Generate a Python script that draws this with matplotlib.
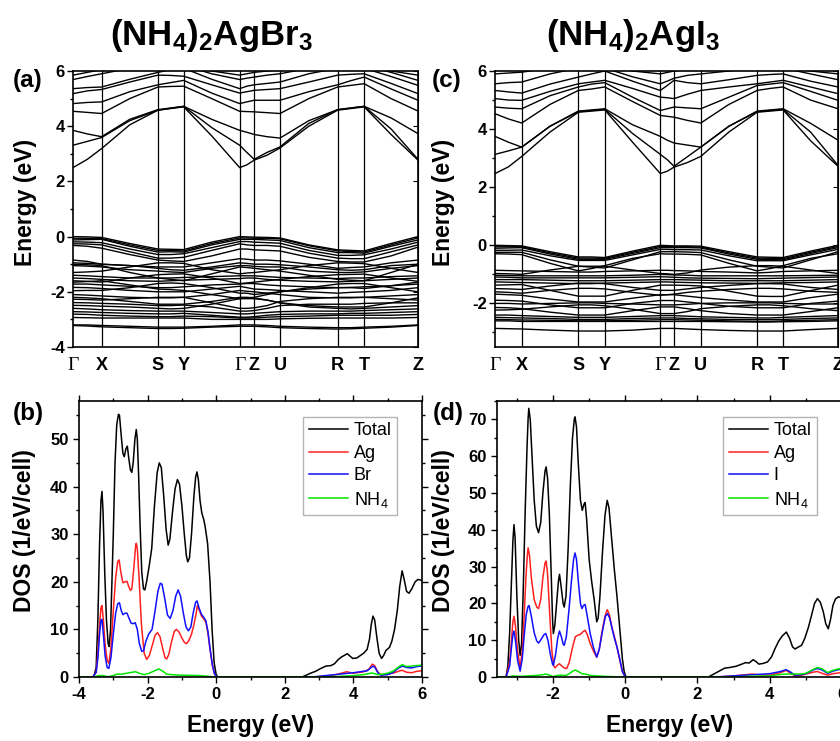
import numpy as np
import matplotlib
matplotlib.use('Agg')
import matplotlib.pyplot as plt
from matplotlib.ticker import MultipleLocator

plt.rcParams['font.family'] = ['Liberation Sans', 'DejaVu Sans']
plt.rcParams['font.weight'] = 'bold'
plt.rcParams['axes.labelweight'] = 'bold'
plt.rcParams['axes.unicode_minus'] = False
plt.rcParams['mathtext.fontset'] = 'custom'
plt.rcParams['mathtext.rm'] = 'Liberation Sans'
plt.rcParams['mathtext.bf'] = 'Liberation Sans:bold'
plt.rcParams['mathtext.default'] = 'regular'

# ---------------- band structures ----------------
# k path (relative distances), values read at the high-symmetry points and segment midpoints
kpath_labels = ['Γ', 'X', 'S', 'Y', 'Γ', 'Z', 'U', 'R', 'T', 'Z']
hs_a = [0, 0.083, 0.246, 0.321, 0.483, 0.525, 0.600, 0.767, 0.844, 1.0]
hs_c = [0, 0.078, 0.243, 0.320, 0.482, 0.522, 0.600, 0.764, 0.840, 1.0]

# (NH4)2AgBr3 bands: Γ m X m S m Y m Γ m Z m U m R m T m Z
bands_a = [
    [2.50, 2.80, 3.19, 4.05, 4.58, 4.64, 4.70, 3.65, 2.50, 2.60, 2.77, 2.95, 3.21, 4.00, 4.58, 4.64, 4.70, 3.70, 2.77],
    [3.31, 3.45, 3.59, 4.20, 4.58, 4.65, 4.72, 3.95, 3.31, 3.05, 2.80, 3.05, 3.25, 4.10, 4.60, 4.66, 4.72, 3.90, 2.80],
    [3.85, 3.72, 3.62, 4.25, 4.60, 4.66, 4.72, 4.25, 3.85, 3.78, 3.70, 3.62, 3.57, 4.20, 4.60, 4.66, 4.72, 4.30, 3.73],
    [4.54, 4.50, 4.46, 5.00, 5.42, 5.44, 5.45, 5.00, 4.54, 4.53, 4.52, 4.49, 4.46, 5.00, 5.42, 5.48, 5.54, 5.00, 4.55],
    [4.82, 4.86, 4.88, 5.25, 5.50, 5.58, 5.66, 5.20, 4.82, 4.88, 4.94, 4.94, 4.94, 5.25, 5.50, 5.65, 5.78, 5.35, 4.94],
    [5.18, 5.28, 5.33, 5.60, 5.85, 5.84, 5.81, 5.50, 5.20, 5.25, 5.30, 5.33, 5.36, 5.60, 5.85, 5.88, 5.90, 5.55, 5.18],
    [5.36, 5.40, 5.42, 5.70, 5.95, 6.05, 6.10, 5.70, 5.36, 5.45, 5.50, 5.55, 5.60, 5.90, 6.10, 6.10, 6.10, 5.80, 5.48],
    [5.69, 5.80, 5.90, 6.10, 6.20, 6.20, 6.20, 5.90, 5.69, 5.74, 5.78, 5.85, 5.90, 6.10, 6.20, 6.20, 6.20, 5.95, 5.66],
    [5.85, 5.95, 6.05, 6.20, 6.30, 6.30, 6.30, 6.00, 5.85, 5.90, 5.95, 6.00, 6.05, 6.20, 6.30, 6.30, 6.30, 6.00, 5.85],
    [0.00, -0.01, -0.03, -0.25, -0.45, -0.46, -0.47, -0.20, 0.00, -0.01, -0.02, -0.03, -0.05, -0.30, -0.48, -0.50, -0.52, -0.25, 0.00],
    [-0.06, -0.06, -0.07, -0.30, -0.50, -0.50, -0.52, -0.25, -0.05, -0.05, -0.06, -0.06, -0.08, -0.33, -0.52, -0.54, -0.56, -0.30, -0.05],
    [-0.12, -0.11, -0.10, -0.35, -0.56, -0.55, -0.56, -0.30, -0.10, -0.10, -0.10, -0.12, -0.14, -0.40, -0.58, -0.58, -0.60, -0.35, -0.12],
    [-0.19, -0.20, -0.22, -0.45, -0.65, -0.65, -0.62, -0.40, -0.18, -0.18, -0.20, -0.22, -0.24, -0.50, -0.68, -0.68, -0.66, -0.45, -0.20],
    [-0.26, -0.27, -0.30, -0.55, -0.78, -0.78, -0.75, -0.50, -0.26, -0.30, -0.32, -0.32, -0.35, -0.60, -0.78, -0.80, -0.80, -0.55, -0.30],
    [-0.32, -0.35, -0.42, -0.65, -0.85, -0.88, -0.90, -0.70, -0.45, -0.45, -0.48, -0.50, -0.52, -0.75, -0.90, -0.92, -0.92, -0.70, -0.38],
    [-0.85, -0.90, -1.00, -1.05, -1.10, -1.10, -1.10, -0.95, -0.80, -0.82, -0.85, -0.85, -0.88, -1.00, -1.15, -1.12, -1.10, -0.95, -0.85],
    [-0.95, -0.97, -1.00, -1.05, -1.15, -1.20, -1.22, -1.10, -0.95, -0.97, -1.00, -1.00, -1.02, -1.10, -1.20, -1.22, -1.20, -1.05, -1.00],
    [-1.05, -1.07, -1.10, -1.20, -1.25, -1.28, -1.30, -1.15, -1.05, -1.05, -1.08, -1.10, -1.10, -1.25, -1.30, -1.30, -1.28, -1.15, -1.05],
    [-1.00, -1.02, -1.05, -1.30, -1.50, -1.55, -1.60, -1.35, -1.10, -1.12, -1.15, -1.20, -1.25, -1.40, -1.55, -1.58, -1.60, -1.30, -1.00],
    [-1.30, -1.28, -1.25, -1.10, -0.95, -0.95, -0.97, -1.20, -1.35, -1.32, -1.30, -1.25, -1.20, -1.05, -0.95, -0.96, -0.98, -1.15, -1.30],
    [-1.40, -1.42, -1.45, -1.50, -1.50, -1.50, -1.48, -1.45, -1.42, -1.42, -1.42, -1.45, -1.48, -1.50, -1.52, -1.50, -1.50, -1.45, -1.42],
    [-1.50, -1.52, -1.55, -1.60, -1.62, -1.60, -1.58, -1.55, -1.52, -1.50, -1.50, -1.55, -1.58, -1.62, -1.64, -1.62, -1.60, -1.55, -1.50],
    [-1.60, -1.62, -1.65, -1.50, -1.38, -1.36, -1.35, -1.50, -1.70, -1.68, -1.65, -1.60, -1.55, -1.45, -1.38, -1.37, -1.36, -1.50, -1.62],
    [-1.65, -1.63, -1.60, -1.75, -1.90, -1.92, -1.95, -2.10, -2.25, -2.22, -2.20, -2.10, -2.00, -1.90, -1.85, -1.85, -1.88, -1.78, -1.65],
    [-1.72, -1.72, -1.75, -1.80, -1.85, -1.85, -1.82, -1.75, -1.72, -1.70, -1.70, -1.75, -1.78, -1.82, -1.85, -1.84, -1.82, -1.78, -1.72],
    [-1.84, -1.85, -1.88, -1.95, -2.00, -2.00, -2.00, -1.90, -1.80, -1.85, -1.90, -1.92, -1.95, -2.00, -2.05, -2.02, -2.00, -1.95, -1.85],
    [-1.96, -1.95, -1.95, -1.85, -1.70, -1.68, -1.70, -1.85, -2.05, -2.05, -2.10, -2.05, -2.00, -1.85, -1.72, -1.70, -1.70, -1.85, -2.00],
    [-2.10, -2.12, -2.15, -2.20, -2.22, -2.22, -2.20, -2.10, -1.95, -1.98, -2.00, -2.05, -2.10, -2.20, -2.22, -2.22, -2.20, -2.15, -2.10],
    [-2.20, -2.22, -2.25, -2.35, -2.45, -2.45, -2.45, -2.35, -2.20, -2.20, -2.22, -2.30, -2.40, -2.50, -2.55, -2.55, -2.55, -2.40, -2.22],
    [-2.27, -2.28, -2.30, -2.25, -2.20, -2.20, -2.20, -2.40, -2.60, -2.60, -2.58, -2.50, -2.35, -2.25, -2.20, -2.20, -2.20, -2.25, -2.30],
    [-2.39, -2.40, -2.42, -2.45, -2.50, -2.50, -2.48, -2.55, -2.70, -2.70, -2.68, -2.60, -2.50, -2.45, -2.45, -2.45, -2.42, -2.40, -2.40],
    [-2.49, -2.50, -2.52, -2.55, -2.60, -2.62, -2.60, -2.45, -2.25, -2.25, -2.25, -2.30, -2.40, -2.55, -2.60, -2.62, -2.60, -2.55, -2.50],
    [-2.60, -2.62, -2.65, -2.68, -2.70, -2.70, -2.70, -2.75, -2.80, -2.80, -2.78, -2.75, -2.72, -2.70, -2.70, -2.70, -2.68, -2.65, -2.62],
    [-2.72, -2.73, -2.75, -2.78, -2.80, -2.80, -2.78, -2.85, -2.92, -2.92, -2.90, -2.85, -2.82, -2.80, -2.80, -2.78, -2.78, -2.75, -2.72],
    [-2.81, -2.82, -2.85, -2.88, -2.90, -2.90, -2.88, -2.90, -2.95, -2.95, -2.95, -2.92, -2.90, -2.88, -2.85, -2.85, -2.85, -2.85, -2.82],
    [-2.93, -2.94, -2.95, -2.95, -2.95, -2.95, -2.95, -3.00, -3.00, -3.00, -3.00, -3.00, -2.98, -2.96, -2.95, -2.95, -2.95, -2.95, -2.93],
    [-3.20, -3.20, -3.22, -3.25, -3.28, -3.28, -3.28, -3.25, -3.20, -3.20, -3.20, -3.22, -3.25, -3.28, -3.30, -3.30, -3.28, -3.25, -3.20],
    [-3.22, -3.24, -3.27, -3.30, -3.33, -3.33, -3.32, -3.28, -3.25, -3.25, -3.25, -3.27, -3.30, -3.33, -3.35, -3.34, -3.32, -3.28, -3.22],
]

# (NH4)2AgI3 bands
bands_c = [
    [2.47, 2.70, 3.06, 3.90, 4.58, 4.62, 4.66, 3.55, 2.47, 2.55, 2.69, 2.85, 3.06, 3.90, 4.58, 4.62, 4.66, 3.60, 2.72],
    [3.13, 3.25, 3.38, 4.10, 4.60, 4.64, 4.68, 3.85, 3.13, 2.95, 2.72, 3.05, 3.38, 4.10, 4.60, 4.64, 4.68, 3.90, 2.75],
    [3.75, 3.55, 3.38, 4.10, 4.62, 4.66, 4.70, 4.15, 3.75, 3.62, 3.52, 3.45, 3.38, 4.10, 4.62, 4.66, 4.70, 4.20, 3.62],
    [4.53, 4.35, 4.21, 4.85, 5.33, 5.38, 5.45, 4.95, 4.47, 4.44, 4.41, 4.30, 4.21, 4.85, 5.33, 5.40, 5.45, 5.00, 4.70],
    [4.76, 4.72, 4.70, 5.15, 5.45, 5.55, 5.60, 5.10, 4.64, 4.70, 4.76, 4.73, 4.70, 5.10, 5.50, 5.55, 5.60, 5.30, 4.99],
    [5.05, 5.00, 4.99, 5.30, 5.56, 5.62, 5.68, 5.40, 5.10, 5.08, 5.05, 5.20, 5.33, 5.45, 5.56, 5.62, 5.68, 5.45, 5.22],
    [5.33, 5.28, 5.24, 5.55, 5.79, 5.90, 6.00, 5.65, 5.33, 5.50, 5.68, 5.60, 5.56, 5.70, 5.85, 5.88, 5.90, 5.65, 5.45],
    [5.56, 5.60, 5.62, 5.90, 6.10, 6.10, 6.10, 5.80, 5.56, 5.65, 5.75, 5.85, 5.90, 6.00, 6.10, 6.10, 6.10, 5.90, 5.70],
    [5.90, 5.93, 5.96, 6.10, 6.20, 6.20, 6.20, 6.00, 5.90, 5.95, 6.00, 6.05, 6.10, 6.20, 6.20, 6.20, 6.20, 6.00, 5.90],
    [0.00, -0.01, -0.02, -0.22, -0.40, -0.40, -0.42, -0.20, 0.00, -0.01, -0.02, -0.02, -0.03, -0.22, -0.40, -0.41, -0.42, -0.20, 0.00],
    [-0.05, -0.05, -0.05, -0.26, -0.44, -0.44, -0.45, -0.24, -0.04, -0.04, -0.05, -0.05, -0.06, -0.26, -0.44, -0.45, -0.46, -0.24, -0.04],
    [-0.10, -0.09, -0.08, -0.30, -0.48, -0.48, -0.48, -0.28, -0.08, -0.08, -0.08, -0.08, -0.09, -0.30, -0.48, -0.49, -0.50, -0.28, -0.08],
    [-0.17, -0.17, -0.16, -0.36, -0.52, -0.52, -0.52, -0.33, -0.14, -0.14, -0.15, -0.15, -0.16, -0.36, -0.53, -0.53, -0.53, -0.33, -0.14],
    [-0.24, -0.24, -0.24, -0.50, -0.72, -0.75, -0.78, -0.50, -0.22, -0.22, -0.22, -0.23, -0.25, -0.50, -0.72, -0.75, -0.78, -0.50, -0.22],
    [-0.29, -0.30, -0.32, -0.62, -0.88, -0.80, -0.70, -0.45, -0.29, -0.30, -0.30, -0.31, -0.33, -0.62, -0.88, -0.80, -0.70, -0.45, -0.29],
    [-0.86, -0.87, -0.88, -0.90, -0.92, -0.92, -0.90, -0.88, -0.86, -0.86, -0.87, -0.88, -0.90, -0.92, -0.95, -0.93, -0.90, -0.88, -0.86],
    [-0.97, -0.98, -1.00, -0.85, -0.72, -0.72, -0.72, -0.85, -0.97, -0.98, -1.00, -0.95, -0.85, -0.75, -0.70, -0.70, -0.72, -0.85, -0.97],
    [-1.03, -1.04, -1.05, -1.05, -1.05, -1.05, -1.05, -1.03, -1.00, -1.01, -1.02, -1.03, -1.05, -1.05, -1.05, -1.05, -1.05, -1.04, -1.03],
    [-1.09, -1.10, -1.12, -1.12, -1.12, -1.12, -1.12, -1.10, -1.08, -1.09, -1.10, -1.12, -1.13, -1.14, -1.15, -1.14, -1.13, -1.11, -1.09],
    [-1.18, -1.18, -1.18, -1.20, -1.22, -1.22, -1.22, -1.20, -1.18, -1.18, -1.18, -1.19, -1.20, -1.22, -1.22, -1.22, -1.22, -1.20, -1.18],
    [-1.26, -1.27, -1.28, -1.30, -1.32, -1.32, -1.30, -1.28, -1.26, -1.26, -1.27, -1.28, -1.29, -1.30, -1.31, -1.30, -1.29, -1.28, -1.26],
    [-1.37, -1.36, -1.35, -1.55, -1.75, -1.75, -1.75, -1.55, -1.37, -1.37, -1.37, -1.38, -1.40, -1.58, -1.75, -1.76, -1.76, -1.56, -1.37],
    [-1.49, -1.50, -1.52, -1.40, -1.30, -1.30, -1.32, -1.45, -1.55, -1.55, -1.55, -1.50, -1.45, -1.38, -1.32, -1.32, -1.33, -1.45, -1.52],
    [-1.60, -1.62, -1.65, -1.55, -1.48, -1.48, -1.50, -1.62, -1.72, -1.70, -1.68, -1.62, -1.58, -1.52, -1.48, -1.48, -1.50, -1.58, -1.62],
    [-1.68, -1.70, -1.72, -1.85, -1.95, -1.95, -1.95, -1.82, -1.70, -1.70, -1.70, -1.75, -1.80, -1.88, -1.95, -1.95, -1.95, -1.80, -1.68],
    [-1.89, -1.90, -1.92, -2.05, -2.15, -2.15, -2.15, -2.00, -1.90, -1.90, -1.90, -1.95, -2.00, -2.10, -2.15, -2.15, -2.15, -2.00, -1.92],
    [-2.00, -2.00, -2.02, -2.00, -1.98, -1.98, -2.00, -2.02, -2.05, -2.05, -2.05, -2.03, -2.00, -1.98, -1.98, -1.98, -2.00, -2.02, -2.02],
    [-2.14, -2.15, -2.18, -2.30, -2.40, -2.40, -2.40, -2.25, -2.12, -2.12, -2.12, -2.18, -2.25, -2.35, -2.40, -2.40, -2.40, -2.28, -2.15],
    [-2.23, -2.22, -2.20, -2.12, -2.05, -2.05, -2.08, -2.20, -2.35, -2.35, -2.35, -2.28, -2.18, -2.10, -2.05, -2.05, -2.08, -2.18, -2.25],
    [-2.40, -2.40, -2.42, -2.45, -2.48, -2.48, -2.48, -2.45, -2.42, -2.42, -2.42, -2.44, -2.46, -2.48, -2.50, -2.50, -2.48, -2.45, -2.42],
    [-2.48, -2.49, -2.50, -2.52, -2.55, -2.55, -2.55, -2.52, -2.50, -2.50, -2.50, -2.52, -2.53, -2.55, -2.56, -2.56, -2.55, -2.52, -2.50],
    [-2.55, -2.56, -2.57, -2.58, -2.60, -2.60, -2.60, -2.58, -2.56, -2.56, -2.56, -2.57, -2.58, -2.60, -2.62, -2.62, -2.60, -2.58, -2.56],
    [-2.60, -2.60, -2.62, -2.62, -2.62, -2.62, -2.62, -2.62, -2.62, -2.62, -2.62, -2.62, -2.62, -2.63, -2.64, -2.64, -2.63, -2.62, -2.60],
    [-2.86, -2.87, -2.88, -2.92, -2.95, -2.95, -2.95, -2.92, -2.86, -2.86, -2.86, -2.88, -2.90, -2.93, -2.95, -2.95, -2.95, -2.90, -2.86],
]

# ---------------- DOS (energy, states/eV/cell) ----------------
b_total = [(-4.0, 0), (-3.57, 0), (-3.5, 2), (-3.45, 12), (-3.4, 28), (-3.36, 37), (-3.33, 39), (-3.3, 35),
           (-3.25, 22), (-3.2, 12), (-3.15, 7), (-3.12, 6.4), (-3.08, 10), (-3.0, 30), (-2.95, 45), (-2.9, 53),
           (-2.85, 55.2), (-2.82, 55), (-2.76, 50), (-2.72, 47), (-2.68, 46.3), (-2.63, 48), (-2.59, 48.5),
           (-2.55, 46), (-2.5, 43.5), (-2.46, 43), (-2.42, 45), (-2.37, 50), (-2.33, 52), (-2.3, 50), (-2.26, 42),
           (-2.22, 32), (-2.17, 22), (-2.12, 18.5), (-2.08, 18.3), (-2.03, 20), (-1.95, 23.5), (-1.88, 27),
           (-1.8, 36), (-1.72, 43), (-1.66, 45), (-1.6, 44), (-1.53, 38), (-1.46, 31), (-1.4, 27.7), (-1.35, 29),
           (-1.27, 35), (-1.2, 39.5), (-1.13, 41.5), (-1.07, 40.5), (-1.0, 36), (-0.93, 30), (-0.87, 25.5),
           (-0.83, 24.2), (-0.78, 25), (-0.72, 30), (-0.65, 38), (-0.6, 42), (-0.56, 43.1), (-0.52, 41.5),
           (-0.47, 37), (-0.42, 34.5), (-0.36, 33), (-0.32, 31.5), (-0.25, 28), (-0.18, 20), (-0.12, 10),
           (-0.06, 3), (0.0, 0.5), (0.05, 0), (2.5, 0), (2.6, 0.3), (2.75, 0.8), (2.9, 1.2), (3.05, 1.8),
           (3.2, 2.3), (3.35, 2.4), (3.45, 2.8), (3.55, 3.6), (3.65, 4.2), (3.75, 4.6), (3.82, 4.9), (3.9, 4.4),
           (3.98, 3.9), (4.1, 4.0), (4.2, 4.5), (4.3, 5.0), (4.4, 5.8), (4.47, 8), (4.52, 11), (4.57, 12.8),
           (4.62, 12), (4.68, 8.5), (4.75, 5), (4.82, 3.9), (4.88, 4.5), (4.95, 5.6), (5.05, 6.2), (5.12, 7.5),
           (5.2, 10), (5.28, 14), (5.35, 19), (5.42, 22.3), (5.48, 20.5), (5.55, 18), (5.62, 17.6), (5.7, 18.5),
           (5.8, 20), (5.88, 20.5), (6.0, 20.3)]
b_ag = [(-4.0, 0), (-3.6, 0), (-3.5, 1), (-3.45, 5), (-3.4, 11), (-3.36, 14.5), (-3.33, 15), (-3.29, 12),
        (-3.24, 7), (-3.18, 3.5), (-3.13, 2.9), (-3.07, 6), (-3.0, 14), (-2.93, 21), (-2.87, 24.3), (-2.83, 24.6),
        (-2.78, 22), (-2.72, 19.8), (-2.66, 20), (-2.6, 20.1), (-2.55, 19), (-2.5, 18.2), (-2.46, 18.5),
        (-2.4, 23), (-2.35, 27.5), (-2.33, 28.1), (-2.3, 27), (-2.25, 21), (-2.18, 11), (-2.1, 5), (-2.03, 3.7),
        (-1.95, 4.5), (-1.87, 6.5), (-1.78, 8.8), (-1.71, 9.3), (-1.64, 8.5), (-1.56, 6), (-1.49, 4),
        (-1.44, 3.8), (-1.38, 4.8), (-1.3, 7.5), (-1.22, 9.6), (-1.16, 10), (-1.08, 9.4), (-1.0, 8.2),
        (-0.93, 7.3), (-0.87, 7.0), (-0.8, 7.6), (-0.72, 9), (-0.65, 11), (-0.58, 13.5), (-0.55, 15),
        (-0.5, 14.2), (-0.43, 12.8), (-0.36, 12.2), (-0.3, 11.5), (-0.24, 9.2), (-0.18, 5.8), (-0.11, 2.4),
        (-0.05, 0.6), (0.02, 0), (2.8, 0), (3.2, 0.2), (3.5, 0.5), (3.8, 1.1), (4.0, 0.8), (4.3, 1.1),
        (4.45, 1.6), (4.55, 2.7), (4.62, 2.4), (4.7, 1.2), (4.8, 0.4), (5.0, 0.6), (5.2, 0.9), (5.35, 1.3),
        (5.42, 1.4), (5.55, 1.0), (5.7, 0.9), (5.85, 1.2), (6.0, 1.3)]
b_br = [(-4.0, 0), (-3.6, 0), (-3.5, 1), (-3.45, 4), (-3.4, 9), (-3.36, 12), (-3.33, 12.1), (-3.29, 9),
        (-3.24, 4.5), (-3.18, 2), (-3.13, 1.8), (-3.07, 4), (-3.0, 9), (-2.93, 13.5), (-2.87, 15.4),
        (-2.82, 15.6), (-2.77, 14), (-2.72, 13.1), (-2.66, 13.4), (-2.6, 13.4), (-2.55, 12.5), (-2.48, 11.3),
        (-2.42, 11.2), (-2.36, 11.4), (-2.3, 10), (-2.24, 7), (-2.17, 5.4), (-2.12, 5.5), (-2.05, 7.5),
        (-1.97, 9), (-1.87, 10), (-1.78, 14), (-1.7, 18), (-1.63, 19.7), (-1.58, 19.5), (-1.5, 16.5),
        (-1.42, 13), (-1.34, 12.3), (-1.26, 14), (-1.18, 17), (-1.11, 18.3), (-1.04, 17), (-0.96, 13.5),
        (-0.88, 10.5), (-0.81, 9.7), (-0.74, 10.5), (-0.67, 13.5), (-0.6, 15.7), (-0.56, 16), (-0.5, 14.5),
        (-0.43, 13.2), (-0.36, 12.5), (-0.3, 11.8), (-0.24, 9.5), (-0.18, 6), (-0.11, 2.5), (-0.05, 0.7),
        (0.02, 0), (2.8, 0), (3.2, 0.3), (3.6, 0.6), (4.0, 0.9), (4.4, 1.3), (4.5, 1.9), (4.57, 2.3),
        (4.63, 2.0), (4.72, 0.8), (4.8, 0.4), (5.0, 0.5), (5.15, 0.9), (5.3, 1.8), (5.42, 2.3), (5.55, 2.0),
        (5.7, 1.9), (5.85, 2.2), (6.0, 2.3)]
b_nh4 = [(-4.0, 0), (-3.6, 0), (-3.4, 0.3), (-3.3, 0.3), (-3.15, 0.05), (-3.0, 0.3), (-2.9, 0.6), (-2.75, 0.6),
         (-2.6, 0.8), (-2.45, 1.0), (-2.35, 1.1), (-2.25, 0.8), (-2.1, 0.5), (-1.95, 0.8), (-1.8, 1.3),
         (-1.68, 1.7), (-1.55, 1.2), (-1.45, 0.6), (-1.3, 0.5), (-1.1, 0.4), (-0.8, 0.35), (-0.5, 0.3),
         (-0.3, 0.2), (-0.1, 0.05), (0.0, 0), (3.0, 0), (3.5, 0.1), (4.0, 0.3), (4.3, 0.5), (4.5, 0.8),
         (4.57, 0.8), (4.7, 0.5), (4.85, 0.6), (5.0, 0.8), (5.15, 1.2), (5.3, 2.0), (5.42, 2.6), (5.55, 2.2),
         (5.7, 2.3), (5.85, 2.4), (6.0, 2.5)]

d_total = [(-3.6, 0), (-3.3, 0), (-3.25, 3), (-3.2, 12), (-3.15, 26), (-3.11, 37), (-3.08, 41.4), (-3.05, 38),
           (-3.0, 22), (-2.95, 10), (-2.91, 5.9), (-2.87, 9), (-2.82, 25), (-2.77, 45), (-2.72, 62), (-2.69, 70),
           (-2.67, 73), (-2.63, 70), (-2.58, 60), (-2.52, 48), (-2.46, 41), (-2.4, 39.2), (-2.34, 42), (-2.28, 50),
           (-2.22, 56), (-2.19, 57.1), (-2.15, 54), (-2.1, 44), (-2.05, 28), (-2.01, 15), (-1.99, 11.8),
           (-1.95, 14), (-1.9, 20), (-1.85, 26), (-1.82, 27.9), (-1.78, 25), (-1.72, 20), (-1.69, 19), (-1.64, 22),
           (-1.58, 35), (-1.52, 52), (-1.46, 65), (-1.41, 70), (-1.39, 70.7), (-1.35, 68), (-1.3, 58), (-1.24, 48),
           (-1.19, 45.3), (-1.14, 47), (-1.11, 47.4), (-1.07, 43), (-1.0, 32), (-0.93, 26), (-0.86, 21),
           (-0.79, 15), (-0.75, 16), (-0.7, 22), (-0.63, 34), (-0.56, 44), (-0.5, 48), (-0.45, 46), (-0.38, 38),
           (-0.3, 29), (-0.23, 22), (-0.15, 13), (-0.08, 5), (-0.03, 1.5), (0.02, 0), (2.3, 0), (2.45, 0.8),
           (2.6, 1.6), (2.75, 2.4), (2.9, 2.6), (3.06, 2.9), (3.2, 3.4), (3.33, 3.9), (3.43, 3.8), (3.54, 4.7),
           (3.62, 4.2), (3.7, 3.5), (3.82, 3.7), (3.94, 4.1), (4.05, 5.5), (4.15, 7.8), (4.25, 9.8), (4.35, 11.2),
           (4.46, 12.2), (4.55, 10.5), (4.63, 8.2), (4.7, 7.6), (4.8, 8.2), (4.88, 8.6), (4.97, 10.5),
           (5.07, 13.5), (5.15, 16.5), (5.24, 20), (5.32, 21.3), (5.4, 20.3), (5.48, 17.8), (5.55, 14.5),
           (5.62, 13.1), (5.68, 15.5), (5.75, 19.5), (5.82, 21.2), (5.9, 21.8), (6.0, 21.5)]
d_ag = [(-3.6, 0), (-3.3, 0), (-3.2, 4), (-3.15, 10), (-3.11, 15), (-3.08, 16.5), (-3.04, 14), (-2.98, 7),
        (-2.91, 2.7), (-2.85, 7), (-2.8, 16), (-2.75, 27), (-2.71, 33), (-2.69, 35.1), (-2.65, 33), (-2.6, 27),
        (-2.52, 21), (-2.45, 19), (-2.4, 18.6), (-2.34, 21), (-2.28, 27), (-2.22, 31), (-2.19, 31.5),
        (-2.15, 28), (-2.09, 17), (-2.03, 7), (-1.98, 3), (-1.94, 2.5), (-1.88, 3.2), (-1.82, 3.6), (-1.76, 3),
        (-1.68, 2.4), (-1.62, 2.3), (-1.55, 4), (-1.46, 8), (-1.38, 11), (-1.3, 11.4), (-1.24, 11.6),
        (-1.17, 12.3), (-1.11, 12.7), (-1.05, 11.5), (-0.97, 9.1), (-0.88, 7), (-0.79, 5.4), (-0.72, 7.5),
        (-0.64, 12.5), (-0.56, 16.5), (-0.5, 18.3), (-0.44, 17), (-0.37, 13.5), (-0.3, 11), (-0.23, 8.2),
        (-0.15, 4.5), (-0.08, 1.5), (0.0, 0), (2.5, 0), (3.0, 0.3), (3.5, 0.8), (3.7, 0.6), (4.0, 0.5),
        (4.3, 1.2), (4.45, 1.8), (4.55, 1.2), (4.7, 0.3), (4.85, 0.4), (5.0, 0.8), (5.2, 1.3), (5.32, 1.5),
        (5.45, 1.0), (5.6, 0.5), (5.75, 0.9), (5.9, 1.1), (6.0, 1.2)]
d_i = [(-3.6, 0), (-3.3, 0), (-3.2, 3), (-3.15, 8), (-3.11, 11.5), (-3.08, 12.5), (-3.04, 10), (-2.98, 4.5),
       (-2.91, 1.6), (-2.85, 5), (-2.8, 11), (-2.74, 17), (-2.69, 19.2), (-2.66, 19.4), (-2.6, 16.5), (-2.52, 12),
       (-2.45, 9.8), (-2.4, 9.2), (-2.33, 10.2), (-2.25, 11.5), (-2.2, 11.8), (-2.14, 10), (-2.07, 6),
       (-2.01, 3.4), (-1.99, 3.2), (-1.93, 6), (-1.87, 10.5), (-1.82, 12.5), (-1.77, 11), (-1.72, 9),
       (-1.69, 8.6), (-1.63, 11), (-1.56, 18), (-1.49, 26), (-1.43, 32), (-1.39, 33.7), (-1.35, 32), (-1.29, 25),
       (-1.24, 20), (-1.2, 18.6), (-1.15, 19.5), (-1.11, 19.7), (-1.06, 17), (-0.97, 11.8), (-0.88, 8),
       (-0.79, 5.4), (-0.72, 7.5), (-0.63, 12.5), (-0.55, 16.5), (-0.49, 17.2), (-0.43, 16), (-0.36, 13),
       (-0.3, 10.5), (-0.23, 8.2), (-0.15, 4.8), (-0.08, 1.5), (0.0, 0), (2.5, 0), (3.0, 0.3), (3.5, 0.6),
       (4.0, 0.9), (4.3, 1.5), (4.45, 2.0), (4.55, 1.5), (4.7, 0.5), (4.85, 0.6), (5.0, 0.9), (5.2, 1.9),
       (5.32, 2.3), (5.45, 1.9), (5.6, 1.0), (5.75, 1.6), (5.9, 2.0), (6.0, 2.1)]
d_nh4 = [(-3.6, 0), (-3.2, 0.1), (-3.1, 0.3), (-2.9, 0.15), (-2.7, 0.3), (-2.5, 0.4), (-2.3, 0.6), (-2.2, 0.8),
         (-2.1, 0.5), (-2.0, 0.1), (-1.9, 0.4), (-1.8, 0.5), (-1.65, 0.4), (-1.55, 0.9), (-1.45, 1.6),
         (-1.38, 1.9), (-1.3, 1.5), (-1.2, 0.9), (-1.1, 0.8), (-0.95, 0.4), (-0.8, 0.3), (-0.5, 0.15),
         (-0.2, 0.05), (0.0, 0), (3.0, 0), (3.5, 0.2), (4.0, 0.3), (4.3, 0.7), (4.45, 0.8), (4.7, 0.8),
         (4.85, 0.8), (5.0, 1.0), (5.15, 1.8), (5.32, 2.6), (5.45, 2.2), (5.6, 1.2), (5.75, 1.8), (5.9, 2.2),
         (6.0, 2.3)]

W, H = 840, 741
fig = plt.figure(figsize=(W / 100, H / 100), dpi=100)


def px_axes(x0, y0, x1, y1):
    # axes from pixel box (top-left origin)
    return fig.add_axes([x0 / W, 1 - y1 / H, (x1 - x0) / W, (y1 - y0) / H])


def nodes(hs):
    hs = np.asarray(hs, dtype=float)
    k = np.empty(2 * len(hs) - 1)
    k[0::2] = hs
    k[1::2] = (hs[:-1] + hs[1:]) / 2
    return k


def band_panel(ax, hs, bands, ylo):
    k = nodes(hs)
    for b in bands:
        ax.plot(k, b, color='black', lw=1.0)
    for x in hs[1:-1]:
        ax.axvline(x, color='black', lw=0.9)
    ax.set_xlim(0, 1)
    ax.set_ylim(ylo, 6)
    ax.set_xticks(hs)
    ax.set_xticklabels(kpath_labels)
    ax.tick_params(axis='x', length=0, pad=7, labelsize=13)
    for lab in ax.get_xticklabels():
        if lab.get_text() == 'Γ':
            lab.set_fontfamily('Liberation Serif')
            lab.set_fontweight('normal')
            lab.set_fontsize(14)
    ax.yaxis.set_major_locator(MultipleLocator(2))
    ax.yaxis.set_minor_locator(MultipleLocator(1))
    ax.tick_params(axis='y', which='both', direction='out', left=True, right=False, labelsize=12, pad=2)
    ax.tick_params(axis='y', which='major', length=4, width=1)
    ax.tick_params(axis='y', which='minor', length=2.5, width=1)
    ax.secondary_yaxis('right').tick_params(which='both', direction='in', labelright=False)
    for s in ax.spines.values():
        s.set_linewidth(1.2)
    ax.set_ylabel('Energy (eV)', fontsize=16.5)


def dos_panel(ax, series, xlo, ytop, ystep):
    for data, name, col in series:
        e, v = np.array(data).T
        ax.plot(e, v, color=col, lw=1.1, label=name)
    ax.set_xlim(xlo, 6)
    ax.set_ylim(0, ytop)
    ax.xaxis.set_major_locator(MultipleLocator(2))
    ax.xaxis.set_minor_locator(MultipleLocator(1))
    ax.yaxis.set_major_locator(MultipleLocator(ystep))
    ax.yaxis.set_minor_locator(MultipleLocator(ystep / 2))
    ax.tick_params(which='both', direction='out', top=True, right=True, labelsize=12, width=1)
    ax.tick_params(which='major', length=4)
    ax.tick_params(which='minor', length=2.5)
    for s in ax.spines.values():
        s.set_linewidth(1.2)
    ax.set_xlabel('Energy (eV)', fontsize=16.5)
    ax.set_ylabel('DOS (1/eV/cell)', fontsize=16.5)
    leg = ax.legend(loc='upper right', bbox_to_anchor=(0.928, 0.942), borderaxespad=0,
                    fancybox=False, handlelength=2.2, handletextpad=0.3, labelspacing=0.3,
                    borderpad=0.3, prop={'weight': 'normal', 'size': 13})
    leg.get_frame().set_edgecolor('#a0a0a0')
    leg.get_frame().set_linewidth(1.0)


ax_a = px_axes(73, 71, 418, 347)
band_panel(ax_a, hs_a, bands_a, -4)
ax_a.yaxis.set_label_coords(-0.139, 0.525)

ax_c = px_axes(495, 71, 838, 347)
band_panel(ax_c, hs_c, bands_c, -3.5)
ax_c.yaxis.set_label_coords(-0.149, 0.525)

ax_b = px_axes(79, 401, 422, 677)
dos_panel(ax_b, [(b_total, 'Total', 'black'), (b_ag, 'Ag', '#ff2020'),
                 (b_br, 'Br', '#1010ff'), (b_nh4, 'NH$_4$', '#00e600')], -4, 58, 10)
ax_b.yaxis.set_label_coords(-0.159, 0.532)

ax_d = px_axes(497, 401, 842, 677)
dos_panel(ax_d, [(d_total, 'Total', 'black'), (d_ag, 'Ag', '#ff2020'),
                 (d_i, 'I', '#1010ff'), (d_nh4, 'NH$_4$', '#00e600')], -3.55, 75, 10)
ax_d.yaxis.set_label_coords(-0.155, 0.532)

for ax in (ax_a, ax_b, ax_c, ax_d):
    ax.yaxis.label.set_verticalalignment('center')
for ax in (ax_b, ax_d):
    ax.xaxis.set_label_coords(0.5, -0.175)
    ax.xaxis.label.set_verticalalignment('center')

fig.text(211 / W, 1 - 36 / H, r'(NH$_\mathbf{4}$)$_\mathbf{2}$AgBr$_\mathbf{3}$',
         fontsize=25, ha='center', va='center')
fig.text(633 / W, 1 - 36 / H, r'(NH$_\mathbf{4}$)$_\mathbf{2}$AgI$_\mathbf{3}$',
         fontsize=25, ha='center', va='center')

for lab, x, y in [('(a)', 28, 80), ('(c)', 447, 80), ('(b)', 28, 413), ('(d)', 448, 413)]:
    fig.text(x / W, 1 - y / H, lab, fontsize=17.5, ha='center', va='center')

fig.savefig('out.png', dpi=100)
